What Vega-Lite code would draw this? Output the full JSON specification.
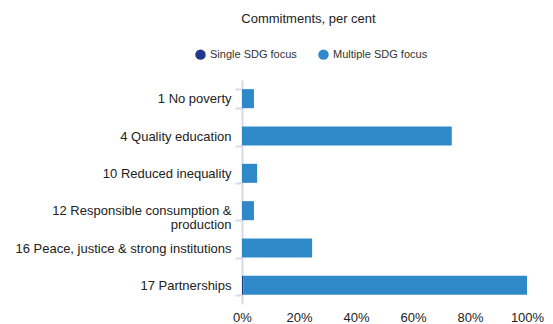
{
  "$schema": "https://vega.github.io/schema/vega-lite/v6.json",
  "width": 285,
  "height": 224,
  "autosize": {"type": "none"},
  "padding": {"left": 242, "top": 80, "right": 26, "bottom": 20},
  "background": "white",
  "title": {
    "text": "Commitments, per cent",
    "anchor": "middle",
    "dx": -76,
    "offset": 23,
    "font": "Liberation Sans",
    "fontSize": 13,
    "fontWeight": "normal",
    "color": "#222222"
  },
  "data": {
    "values": [
      {"goal": "1 No poverty", "focus": "Single SDG focus", "share": 0, "ord": 0},
      {"goal": "1 No poverty", "focus": "Multiple SDG focus", "share": 4.2, "ord": 1},
      {"goal": "4 Quality education", "focus": "Single SDG focus", "share": 0, "ord": 0},
      {"goal": "4 Quality education", "focus": "Multiple SDG focus", "share": 73.6, "ord": 1},
      {"goal": "10 Reduced inequality", "focus": "Single SDG focus", "share": 0, "ord": 0},
      {"goal": "10 Reduced inequality", "focus": "Multiple SDG focus", "share": 5.3, "ord": 1},
      {"goal": "12 Responsible consumption & production", "focus": "Single SDG focus", "share": 0, "ord": 0},
      {"goal": "12 Responsible consumption & production", "focus": "Multiple SDG focus", "share": 4.2, "ord": 1},
      {"goal": "16 Peace, justice & strong institutions", "focus": "Single SDG focus", "share": 0, "ord": 0},
      {"goal": "16 Peace, justice & strong institutions", "focus": "Multiple SDG focus", "share": 24.6, "ord": 1},
      {"goal": "17 Partnerships", "focus": "Single SDG focus", "share": 0.5, "ord": 0},
      {"goal": "17 Partnerships", "focus": "Multiple SDG focus", "share": 99.5, "ord": 1}
    ]
  },
  "mark": {"type": "bar"},
  "encoding": {
    "y": {
      "field": "goal",
      "type": "nominal",
      "sort": null,
      "scale": {"paddingInner": 0.49, "paddingOuter": 0.245},
      "axis": {
        "title": null,
        "domainColor": "#d6d9ee",
        "domainWidth": 2,
        "tickColor": "#d6d9ee",
        "tickWidth": 2,
        "tickSize": 7,
        "tickBand": "extent",
        "labelPadding": 4,
        "labelFont": "Liberation Sans",
        "labelFontSize": 13,
        "labelColor": "#222222",
        "labelLimit": 260,
        "labelLineHeight": 14,
        "labelExpr": "datum.value == '12 Responsible consumption & production' ? ['12 Responsible consumption &', 'production'] : datum.value"
      }
    },
    "x": {
      "field": "share",
      "type": "quantitative",
      "stack": "zero",
      "scale": {"domain": [0, 100], "nice": false},
      "axis": {
        "title": null,
        "values": [0, 20, 40, 60, 80, 100],
        "labelExpr": "datum.value + '%'",
        "grid": false,
        "domain": false,
        "ticks": false,
        "labelPadding": 7,
        "labelFont": "Liberation Sans",
        "labelFontSize": 13,
        "labelColor": "#222222",
        "labelFlush": false
      }
    },
    "color": {
      "field": "focus",
      "type": "nominal",
      "scale": {"domain": ["Single SDG focus", "Multiple SDG focus"], "range": ["#22388a", "#2f89c8"]},
      "legend": {
        "title": null,
        "orient": "none",
        "direction": "horizontal",
        "legendX": -47,
        "legendY": -31,
        "symbolType": "circle",
        "symbolSize": 110,
        "symbolStrokeWidth": 0,
        "labelFont": "Liberation Sans",
        "labelFontSize": 11,
        "labelColor": "#333333",
        "columnPadding": 21
      }
    },
    "order": {"field": "ord", "type": "quantitative"}
  },
  "config": {"view": {"stroke": null}}
}
